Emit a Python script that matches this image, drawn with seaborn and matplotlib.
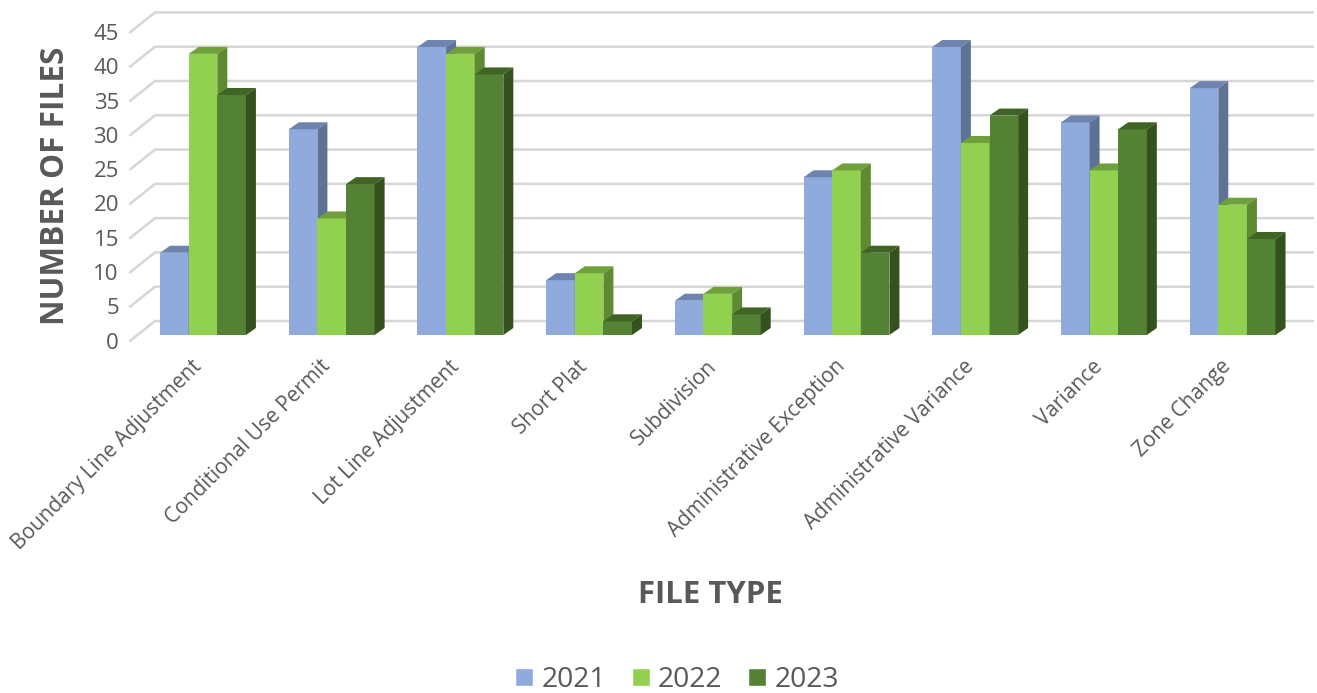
import matplotlib
matplotlib.use("Agg")
import matplotlib.pyplot as plt
from matplotlib.patches import Polygon
from matplotlib.transforms import ScaledTranslation
import pandas as pd
import seaborn as sns

# ---- data ----
FILE_TYPES = ["Boundary Line Adjustment", "Conditional Use Permit", "Lot Line Adjustment",
              "Short Plat", "Subdivision", "Administrative Exception",
              "Administrative Variance", "Variance", "Zone Change"]
YEARS = ["2021", "2022", "2023"]
FILES_2021 = [12, 30, 42, 8, 5, 23, 42, 31, 36]
FILES_2022 = [41, 17, 41, 9, 6, 24, 28, 24, 19]
FILES_2023 = [35, 22, 38, 2, 3, 12, 32, 30, 14]
Y_TICKS = [0, 5, 10, 15, 20, 25, 30, 35, 40, 45]

# colours: front, top, side
FRONT = ["#8FAADC", "#92D050", "#548235"]
TOP = ["#6E84AE", "#70A03C", "#3F6424"]
SIDE = ["#5E7295", "#5F8A31", "#34511E"]
TEXT_COLOR = "#595959"
GRID_COLOR = "#D6D6D6"

# ---- layout in image pixels ----
W, H = 1317, 693
PX_PER_CAT = 128.7
PX_PER_FILE = 6.857
FIRST_CAT_X = 203     # centre of first group
BASE_Y = 335          # front plane, zero line
AX_L, AX_R, AX_T, AX_B = 130, 1313, 5, 345
BAR_DX, BAR_DY = 10, 7       # depth of a bar
BACK_DX, BACK_DY = 25, 14    # back wall relative to bars' front
FLOOR_DY = -6                # front edge of the side wall

df = pd.DataFrame({
    "type": FILE_TYPES * 3,
    "year": [y for y in YEARS for _ in FILE_TYPES],
    "files": FILES_2021 + FILES_2022 + FILES_2023,
})

sns.set_theme(style="white")
plt.rcParams["font.family"] = ["Open Sans", "DejaVu Sans"]

fig = plt.figure(figsize=(W / 100, H / 100), dpi=100)
ax = fig.add_axes([AX_L / W, 1 - AX_B / H, (AX_R - AX_L) / W, (AX_B - AX_T) / H])

sns.barplot(data=df, x="type", y="files", hue="year", hue_order=YEARS, palette=FRONT,
            width=0.667, gap=0, saturation=1, ax=ax)

ax.set_xlim((AX_L - FIRST_CAT_X) / PX_PER_CAT, (AX_R - FIRST_CAT_X) / PX_PER_CAT)
ax.set_ylim((BASE_Y - AX_B) / PX_PER_FILE, (BASE_Y - AX_T) / PX_PER_FILE)
sns.despine(ax=ax, left=True, bottom=True)

# pixel offsets to data units
ux = 1 / PX_PER_CAT
uy = 1 / PX_PER_FILE

# back wall and left wall gridlines
x_left = ax.get_xlim()[0]
x_back = x_left + BACK_DX * ux
x_right = ax.get_xlim()[1]
for v in Y_TICKS:
    y_back = v + BACK_DY * uy
    ax.plot([x_left, x_back, x_right], [v + FLOOR_DY * uy, y_back, y_back],
            color=GRID_COLOR, lw=1.8, zorder=1, clip_on=False, solid_joinstyle="miter")

# fake 3d: top and side faces built from the seaborn bars
for h, container in enumerate(ax.containers):
    for c, bar in enumerate(container):
        z = 3 + c * 3 + h
        x0, w, top = bar.get_x(), bar.get_width(), bar.get_height()
        x1 = x0 + w
        dx, dy = BAR_DX * ux, BAR_DY * uy
        bar.set_zorder(z)
        bar.set_edgecolor("none")
        ax.add_patch(Polygon([(x0, top), (x1, top), (x1 + dx, top + dy), (x0 + dx, top + dy)],
                             facecolor=TOP[h], edgecolor="none", zorder=z))
        ax.add_patch(Polygon([(x1, 0), (x1 + dx, dy), (x1 + dx, top + dy), (x1, top)],
                             facecolor=SIDE[h], edgecolor="none", zorder=z))

# ticks
ax.set_yticks(Y_TICKS)
ax.set_yticklabels([str(v) for v in Y_TICKS])
ax.tick_params(axis="y", length=0, pad=8, labelsize=16, labelcolor=TEXT_COLOR)
for lab in ax.get_yticklabels():
    lab.set_transform(lab.get_transform() + ScaledTranslation(0, -4 / 72, fig.dpi_scale_trans))

ax.set_xticks(range(len(FILE_TYPES)))
ax.set_xticklabels(FILE_TYPES, rotation=45, ha="right", rotation_mode="anchor")
ax.tick_params(axis="x", length=0, pad=8, labelsize=15, labelcolor=TEXT_COLOR)
for lab in ax.get_xticklabels():
    lab.set_transform(lab.get_transform() + ScaledTranslation(-12 / 100, 0, fig.dpi_scale_trans))

# axis titles
ax.set_xlabel("FILE TYPE", fontsize=22.4, fontweight="bold", color=TEXT_COLOR)
ax.set_ylabel("NUMBER OF FILES", fontsize=22.7, fontweight="bold", color=TEXT_COLOR)
ax.xaxis.set_label_coords(710 / W, 1 - 595 / H, transform=fig.transFigure)
ax.yaxis.set_label_coords(56 / W, 1 - 186 / H, transform=fig.transFigure)
ax.xaxis.label.set_va("center")
ax.yaxis.label.set_va("center")

# legend
handles, labels = ax.get_legend_handles_labels()
ax.legend(handles, labels, ncol=3, frameon=False, loc="center",
          bbox_to_anchor=(677 / W, 1 - 680 / H), bbox_transform=fig.transFigure,
          fontsize=20.3, labelcolor=TEXT_COLOR, handlelength=0.64, handleheight=0.64,
          handletextpad=0.3, columnspacing=0.9)

fig.savefig("out.png", dpi=100)
